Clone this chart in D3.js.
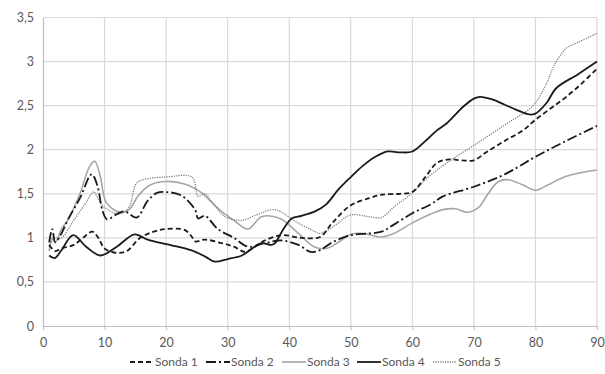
<!DOCTYPE html>
<html>
<head>
<meta charset="utf-8">
<script src="https://cdn.jsdelivr.net/npm/d3@7"></script>
<style>
  body { margin: 0; background: #fff; }
  svg text { font-family: Lato, "Open Sans", sans-serif; fill: #595959; }
</style>
</head>
<body>
<div id="chart"></div>
<script>
// readings per probe: [depth, value]
var sonda1 = [[1,0.92],[2,0.85],[3,0.88],[5,0.92],[6.5,1.0],[8,1.07],[9,1.0],[10,0.88],[12,0.83],[13.6,0.85],[15.8,1.0],[18,1.07],[20,1.1],[23,1.09],[24.2,1.01],[24.7,0.96],[26.3,0.98],[29,0.94],[31,0.9],[32.8,0.84],[34,0.88],[36,0.97],[38.8,1.03],[42,1.0],[45,1.01],[47,1.17],[50,1.37],[53,1.45],[55,1.49],[58,1.5],[60,1.52],[62,1.68],[64,1.85],[66,1.89],[68,1.88],[70,1.88],[72,1.97],[75,2.1],[78,2.22],[80,2.34],[82.5,2.47],[85,2.6],[87.5,2.75],[90,2.92]];
var sonda2 = [[1,0.95],[1.5,1.1],[2,0.95],[3,1.05],[4,1.2],[6,1.45],[7.9,1.72],[8.8,1.6],[9.7,1.3],[10.4,1.21],[12,1.27],[13.3,1.3],[15.2,1.23],[17,1.42],[18.5,1.51],[20,1.52],[22.5,1.48],[24.7,1.32],[25.2,1.22],[26.3,1.25],[28.4,1.1],[31,1.0],[33.3,0.9],[36,0.94],[38.8,0.97],[41.5,0.92],[43.5,0.84],[45,0.86],[47,0.95],[50,1.03],[53,1.05],[55,1.07],[57,1.15],[60,1.28],[63,1.38],[65,1.47],[70,1.58],[75,1.72],[80,1.92],[85,2.1],[90,2.27]];
var sonda3 = [[1,0.85],[1.5,1.0],[2,0.95],[3,1.1],[4,1.2],[6,1.5],[7.5,1.8],[8.4,1.87],[9.3,1.7],[10.3,1.4],[12.5,1.29],[14,1.32],[15.5,1.48],[17.4,1.6],[20,1.64],[23,1.61],[25.8,1.51],[26.9,1.44],[29,1.3],[31,1.2],[33.3,1.1],[35.5,1.24],[38.5,1.22],[41.5,1.05],[44,0.9],[46,0.88],[48,0.95],[50,1.04],[52,1.05],[55,1.01],[57,1.05],[60,1.17],[63,1.27],[65,1.32],[67,1.33],[69,1.29],[71,1.36],[72,1.47],[74,1.64],[75.5,1.66],[78,1.6],[80,1.54],[82,1.6],[85,1.7],[90,1.77]];
var sonda4 = [[1,0.8],[1.9,0.77],[3,0.86],[4.9,1.03],[7,0.9],[9.3,0.8],[12,0.9],[14.9,1.04],[17,0.98],[20.6,0.92],[24,0.86],[26.3,0.79],[27.9,0.73],[30,0.76],[32.3,0.8],[34,0.88],[35.5,0.94],[37.1,0.92],[37.7,0.94],[38.8,1.07],[40.4,1.22],[42,1.25],[44.2,1.3],[46,1.38],[48,1.55],[50,1.69],[52,1.82],[54,1.92],[56,1.98],[58,1.97],[60,1.98],[62.3,2.11],[64,2.22],[65.6,2.3],[68.3,2.49],[70,2.58],[71,2.6],[73,2.57],[75,2.51],[77,2.45],[79,2.4],[80,2.41],[81.8,2.53],[83.4,2.7],[87,2.86],[90,3.0]];
var sonda5 = [[1,0.9],[2,1.0],[3,1.0],[5,1.2],[7,1.4],[8.2,1.52],[9.5,1.38],[11,1.3],[12.5,1.27],[14,1.35],[15.2,1.62],[17,1.67],[20,1.69],[24.2,1.69],[25.2,1.47],[26.3,1.5],[27.5,1.4],[29.6,1.24],[32.3,1.2],[35,1.27],[37.7,1.32],[41.4,1.17],[44.2,1.07],[45,1.05],[47,1.12],[50,1.26],[53,1.24],[55,1.23],[57,1.35],[60,1.51],[62.6,1.69],[65.6,1.85],[70,2.05],[75,2.28],[79.6,2.5],[81.8,2.75],[83,2.95],[85,3.15],[87,3.22],[90,3.32]];

var seriesNames = ['Sonda 1', 'Sonda 2', 'Sonda 3', 'Sonda 4', 'Sonda 5'];
var xTicks = [0, 10, 20, 30, 40, 50, 60, 70, 80, 90];
var yTicks = [0, 0.5, 1, 1.5, 2, 2.5, 3, 3.5];

var styles = [
  { color: '#1a1a1a', width: 1.8, dash: '5,3' },
  { color: '#1a1a1a', width: 1.8, dash: '10,3,2,3' },
  { color: '#a6a6a6', width: 1.6, dash: null },
  { color: '#1a1a1a', width: 1.8, dash: null },
  { color: '#7f7f7f', width: 1.3, dash: '1.2,1.2' }
];

var svgWidth = 605, svgHeight = 374;
var margin = { top: 17.5, right: 8, bottom: 48, left: 43 };
var width = svgWidth - margin.left - margin.right;
var height = svgHeight - margin.top - margin.bottom;

var svg = d3.select('#chart')
  .append('svg')
  .attr('width', svgWidth)
  .attr('height', svgHeight);
var g = svg.append('g')
  .attr('transform', 'translate(' + margin.left + ',' + margin.top + ')');

var x = d3.scaleLinear().domain([0, 90]).range([0, width]);
var y = d3.scaleLinear().domain([0, 3.5]).range([height, 0]);

// grid
g.append('g')
  .selectAll('line')
  .data(yTicks.slice(1))
  .enter()
  .append('line')
  .attr('x1', 0).attr('x2', width)
  .attr('y1', function (d) { return y(d); })
  .attr('y2', function (d) { return y(d); })
  .attr('stroke', '#d9d9d9')
  .attr('stroke-width', 1.2);
g.append('g')
  .selectAll('line')
  .data(xTicks.slice(1))
  .enter()
  .append('line')
  .attr('y1', 0).attr('y2', height)
  .attr('x1', function (d) { return x(d); })
  .attr('x2', function (d) { return x(d); })
  .attr('stroke', '#d9d9d9')
  .attr('stroke-width', 1.2);

// axes
var fmt = function (d) { return String(d).replace('.', ','); };
var xAxis = g.append('g')
  .attr('transform', 'translate(0,' + height + ')')
  .call(d3.axisBottom(x).tickValues(xTicks).tickSize(4).tickPadding(8).tickFormat(fmt));
var yAxis = g.append('g')
  .call(d3.axisLeft(y).tickValues(yTicks).tickSize(0).tickPadding(9).tickFormat(fmt));
[xAxis, yAxis].forEach(function (a) {
  a.select('.domain').attr('stroke', '#bfbfbf').attr('stroke-width', 1.2);
  a.selectAll('.tick line').attr('stroke', '#bfbfbf');
  a.selectAll('text').attr('font-size', 12.5).attr('fill', '#595959')
    .attr('font-family', 'Lato, "Open Sans", sans-serif');
});

// lines
var line = d3.line()
  .x(function (d) { return x(d[0]); })
  .y(function (d) { return y(d[1]); })
  .curve(d3.curveCatmullRom.alpha(0.5));

var allSeries = [sonda1, sonda2, sonda3, sonda4, sonda5];
var drawOrder = [2, 4, 1, 0, 3];
drawOrder.forEach(function (i) {
  g.append('path')
    .datum(allSeries[i])
    .attr('fill', 'none')
    .attr('stroke', styles[i].color)
    .attr('stroke-width', styles[i].width)
    .attr('stroke-dasharray', styles[i].dash)
    .attr('d', line);
});

// legend
var legendX = [130, 206, 282, 357, 433];
var legend = svg.append('g').attr('transform', 'translate(0,362)');
seriesNames.forEach(function (name, i) {
  var item = legend.append('g').attr('transform', 'translate(' + legendX[i] + ',0)');
  item.append('line')
    .attr('x1', 0).attr('x2', 24)
    .attr('stroke', styles[i].color)
    .attr('stroke-width', styles[i].width)
    .attr('stroke-dasharray', styles[i].dash);
  item.append('text')
    .attr('x', 25).attr('y', 4)
    .attr('font-size', 12)
    .text(name);
});
</script>
</body>
</html>
